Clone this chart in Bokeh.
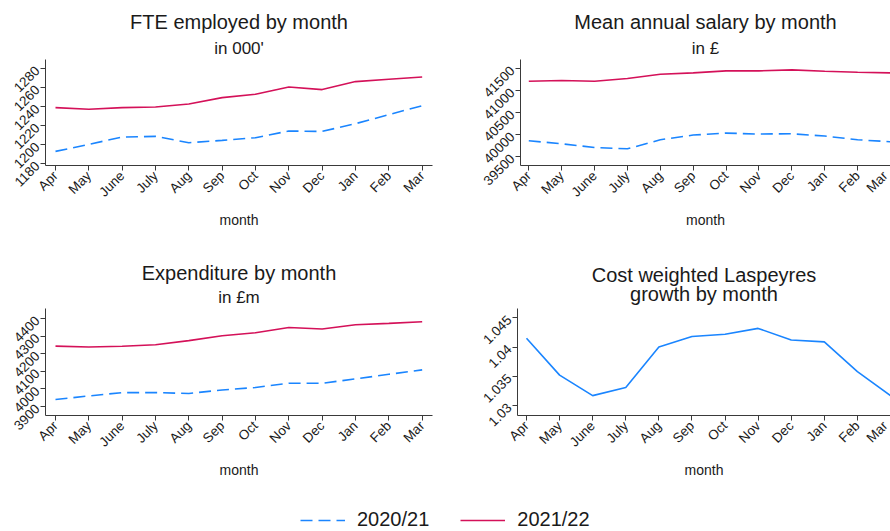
from math import pi

from bokeh.embed import file_html
from bokeh.layouts import column, row
from bokeh.models import FixedTicker, Legend, LegendItem, Range1d, Title
from bokeh.plotting import figure
from bokeh.resources import INLINE

# ---- data -------------------------------------------------------------
months = ["Apr", "May", "June", "July", "Aug", "Sep", "Oct", "Nov", "Dec", "Jan", "Feb", "Mar"]

fte_2020 = [1193, 1200.4, 1208.1, 1208.8, 1202.1, 1204.6, 1207.4, 1214.4, 1214, 1222.1, 1231.6, 1241]
fte_2021 = [1239, 1237.2, 1239, 1239.6, 1242.8, 1249.5, 1253, 1260.7, 1257.9, 1266.3, 1268.8, 1271.2]

salary_2020 = [39857, 39789, 39705, 39675, 39880, 39987, 40032, 40010, 40017, 39964, 39880, 39835]
salary_2021 = [41211, 41226, 41211, 41272, 41371, 41401, 41447, 41447, 41470, 41439, 41416, 41401]

spend_2020 = [3940, 3960, 3979, 3979, 3974, 3994, 4008, 4032, 4032, 4057, 4083, 4108]
spend_2021 = [4243, 4238, 4242, 4251, 4274, 4302, 4319, 4349, 4340, 4364, 4372, 4381]

laspeyres = [1.0415, 1.0352, 1.0317, 1.0331, 1.0400, 1.0418, 1.0422, 1.0432, 1.0412, 1.0409, 1.0358, 1.0317]

fte_ticks = [1180, 1200, 1220, 1240, 1260, 1280]
salary_ticks = [39500, 40000, 40500, 41000, 41500]
spend_ticks = [3900, 4000, 4100, 4200, 4300, 4400]
lasp_ticks = [1.03, 1.035, 1.04, 1.045]
lasp_tick_labels = ["1.03", "1.035", "1.04", "1.045"]

series_labels = ["2020/21", "2021/22"]

# ---- styling ----------------------------------------------------------
BLUE = "#1a85ff"
RED = "#d41159"
FONT = "Liberation Sans"
TEXT = "#1a1a1a"
AXIS = "#3a3a3a"
DASH = "12 6"
x_idx = list(range(len(months)))
TITLE_PROPS = Title.properties()


def panel(width, height, borders, xr, yr, yticks, ylabels, titles):
    left, right, top, bottom = borders
    p = figure(width=width, height=height, output_backend="svg", toolbar_location=None,
               x_range=Range1d(*xr), y_range=Range1d(*yr),
               min_border_left=left, min_border_right=right,
               min_border_top=top, min_border_bottom=bottom)
    p.outline_line_color = None
    p.grid.visible = False
    p.background_fill_color = "white"
    p.border_fill_color = "white"

    p.xaxis.ticker = FixedTicker(ticks=x_idx)
    p.xaxis.major_label_overrides = {i: m for i, m in enumerate(months)}
    p.xaxis.axis_label = "month"
    p.yaxis.ticker = FixedTicker(ticks=yticks)
    p.yaxis.major_label_overrides = dict(zip(yticks, ylabels))

    for ax in (p.xaxis[0], p.yaxis[0]):
        ax.major_label_orientation = pi / 4
        ax.major_label_text_font = FONT
        ax.major_label_text_font_size = "13.5px"
        ax.major_label_text_color = TEXT
        ax.major_label_standoff = 3
        ax.axis_line_color = AXIS
        ax.major_tick_line_color = AXIS
        ax.major_tick_out = 5
        ax.major_tick_in = 0
        ax.minor_tick_line_color = None
        ax.axis_label_text_font = FONT
        ax.axis_label_text_font_size = "14px"
        ax.axis_label_text_font_style = "normal"
        ax.axis_label_text_color = TEXT
    p.xaxis.axis_label_standoff = 4

    # titles are stacked outward from the frame: first added sits lowest
    for text, size, standoff, line_height in titles:
        t = Title(text=text, align="center", text_font=FONT, text_font_size=size,
                  text_font_style="normal", text_color=TEXT, standoff=standoff,
                  text_line_height=line_height)
        if "text_align" in TITLE_PROPS:
            t.text_align = "center"
        p.add_layout(t, "above")
    return p


p1 = panel(445, 255, (45, 13, 59, 90), (-0.3, 11.31), (1178.2, 1289.5),
           fte_ticks, [str(t) for t in fte_ticks],
           [("in 000'", "17px", 4, 1.0), ("FTE employed by month", "20px", 4, 1.0)])
p1.line(x_idx, fte_2020, line_color=BLUE, line_width=1.6, line_dash=DASH)
p1.line(x_idx, fte_2021, line_color=RED, line_width=1.6)

p2 = panel(445, 255, (75, 0, 59, 90), (-0.252, 11.0), (39295, 41705),
           salary_ticks, [str(t) for t in salary_ticks],
           [("in £", "17px", 4, 1.0), ("Mean annual salary by month", "20px", 4, 1.0)])
p2.line(x_idx, salary_2020, line_color=BLUE, line_width=1.6, line_dash=DASH)
p2.line(x_idx, salary_2021, line_color=RED, line_width=1.6)

p3 = panel(445, 245, (45, 13, 53, 85), (-0.3, 11.31), (3849, 4456.6),
           spend_ticks, [str(t) for t in spend_ticks],
           [("in £m", "17px", 4, 1.0), ("Expenditure by month", "20px", 0, 1.0)])
p3.line(x_idx, spend_2020, line_color=BLUE, line_width=1.6, line_dash=DASH)
p3.line(x_idx, spend_2021, line_color=RED, line_width=1.6)

p4 = panel(445, 245, (72, 0, 53, 85), (-0.272, 11.0), (1.0283, 1.0466),
           lasp_ticks, lasp_tick_labels,
           [("Cost weighted Laspeyres\ngrowth by month", "20px", 6, 0.9)])
p4.line(x_idx, laspeyres, line_color=BLUE, line_width=1.6)

# ---- shared legend ----------------------------------------------------
lf = figure(width=890, height=31, output_backend="svg", toolbar_location=None,
            x_range=Range1d(0, 1), y_range=Range1d(0, 1),
            min_border_left=0, min_border_right=0, min_border_top=0, min_border_bottom=0)
lf.axis.visible = False
lf.grid.visible = False
lf.outline_line_color = None
nan = float("nan")
r_a = lf.line(x=[nan], y=[nan], line_color=BLUE, line_width=1.6, line_dash=DASH)
r_b = lf.line(x=[nan], y=[nan], line_color=RED, line_width=1.6)
legend = Legend(items=[LegendItem(label=series_labels[0], renderers=[r_a]),
                       LegendItem(label=series_labels[1], renderers=[r_b])],
                orientation="horizontal", location=(300, 0),
                border_line_color=None, background_fill_alpha=0,
                label_text_font=FONT, label_text_font_size="20px", label_text_color=TEXT,
                glyph_width=45, glyph_height=20, label_standoff=12, spacing=31,
                padding=0, margin=0)
lf.add_layout(legend)

layout = column(row(p1, p2, spacing=0), row(p3, p4, spacing=0), lf, spacing=0)

with open("out.html", "w") as f:
    f.write(file_html(layout, INLINE))
